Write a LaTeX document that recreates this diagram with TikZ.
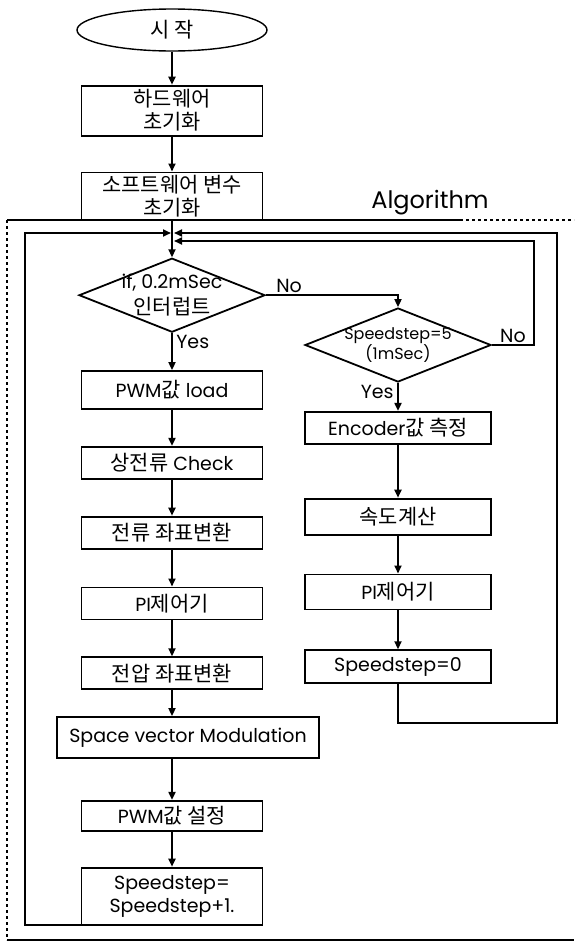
\documentclass[tikz,border=0pt]{standalone}
\usepackage{fontspec}
\setmainfont{Poppins}
\newfontfamily\kr[Scale=1.1]{Noto Sans CJK KR}
\usepackage{tikz}
\usetikzlibrary{arrows.meta,positioning,shapes.geometric}
\tikzset{
  >={Triangle[length=8pt,width=7pt]},
  font=\fontsize{19}{23}\selectfont,
  kr/.style={font=\fontsize{19}{23}\selectfont\kr},
  box/.style={draw,line width=1.8pt,align=center,inner sep=0pt,
              minimum width=181pt,minimum height=32pt},
  rbox/.style={box,minimum width=186pt},
  term/.style={ellipse,draw,line width=1.4pt,inner sep=0pt,
               minimum width=190pt,minimum height=42pt},
  dia/.style={diamond,aspect=2.5,draw,line width=1.8pt,inner sep=-10pt,
              align=center,minimum width=186pt,minimum height=74pt},
  flow/.style={->,line width=1.8pt},
  lbl/.style={inner sep=1.5pt},
  frameln/.style={line width=1.2pt},
}

\begin{document}
\begin{tikzpicture}[x=1pt,y=-1pt,node distance=36pt]
  \useasboundingbox (0,0) rectangle (574,951);

  \node[term,kr] (start) at (172,30) {시 작};
  \node[box,kr,minimum height=50pt,below=33pt of start] (hw) {하드웨어\\초기화};
  \node[box,kr,minimum height=48pt,below=35pt of hw] (sw) {소프트웨어 변수\\초기화};
  \node[dia,font=\fontsize{19}{26}\selectfont,below=of sw] (d1) {if, 0.2mSec\\{\kr 인터럽트}};
  \node[box,minimum height=38pt,below=37pt of d1] (pwm) {PWM{\kr 값} load};
  \node[box,below=of pwm] (chk) {{\kr 상전류} Check};
  \node[box,kr,below=of chk] (ctr) {전류 좌표변환};
  \node[box,below=37pt of ctr] (pic) {PI{\kr 제어기}};
  \node[box,kr,below=of pic] (vtr) {전압 좌표변환};
  \node[box,minimum width=262pt,minimum height=41pt,below=26pt of vtr,xshift=16pt] (svm) {Space vector Modulation};
  \node[box,minimum height=30pt,below=41pt of svm,xshift=-16pt] (pset) {PWM{\kr 값 설정}};
  \node[box,minimum height=57pt,below=35pt of pset] (inc) {Speedstep=\\Speedstep+1.};

  \node[dia,font=\fontsize{16}{19}\selectfont] (d2) at (398,345) {Speedstep=5\\(1mSec)};
  \node[rbox,below=28pt of d2] (enc) {Encoder{\kr 값 측정}};
  \node[rbox,kr,minimum height=36pt,below=53pt of enc] (spd) {속도계산};
  \node[rbox,minimum height=35pt,below=38pt of spd] (pir) {PI{\kr 제어기}};
  \node[rbox,minimum height=33pt,below=39pt of pir] (sp0) {Speedstep=0};

  \node[font=\fontsize{24}{28}\selectfont] (alg) at (430,203) {Algorithm};

  \coordinate (j1w) at (171,233);
  \coordinate (j1e) at (174,233);
  \coordinate (j2e) at (174,241);
  \coordinate (nr) at (534,241);
  \coordinate (lb) at (25,925);
  \coordinate (rb) at (557,723);

  \draw[frameln] (7,220) -- (460,220);
  \draw[frameln,dashed] (460,220) -- (574,220);
  \draw[frameln,dashed] (7,220) -- (7,940);
  \draw[frameln] (7,940) -- (574,940);

  \draw[flow] (start) -- (hw);
  \draw[flow] (hw) -- (sw);
  \draw[flow] (sw) -- (d1);
  \draw[flow] (d1) -- node[lbl,at start,anchor=north west,xshift=2pt]{Yes} (pwm);
  \draw[flow] (pwm) -- (chk);
  \draw[flow] (chk) -- (ctr);
  \draw[flow] (ctr) -- (pic);
  \draw[flow] (pic) -- (vtr);
  \draw[flow] (vtr.south) -- (vtr.south |- svm.north);
  \draw[flow] (pset.north |- svm.south) -- (pset);
  \draw[flow] (pset) -- (inc);
  \draw[flow] (inc.south) |- (lb) |- (j1w);

  \draw[flow] (d1.east) -| node[lbl,at start,anchor=south west,xshift=8pt]{No} (d2.north);
  \draw[flow] (d2.east) -| node[lbl,pos=0.25,anchor=south]{No} (nr) -- (j2e);
  \draw[flow] (d2) -- node[lbl,at start,anchor=north east,xshift=-2pt]{Yes} (enc);
  \draw[flow] (enc) -- (spd);
  \draw[flow] (spd) -- (pir);
  \draw[flow] (pir) -- (sp0);
  \draw[flow] (sp0.south) |- (rb) |- (j1e);
\end{tikzpicture}
\end{document}
